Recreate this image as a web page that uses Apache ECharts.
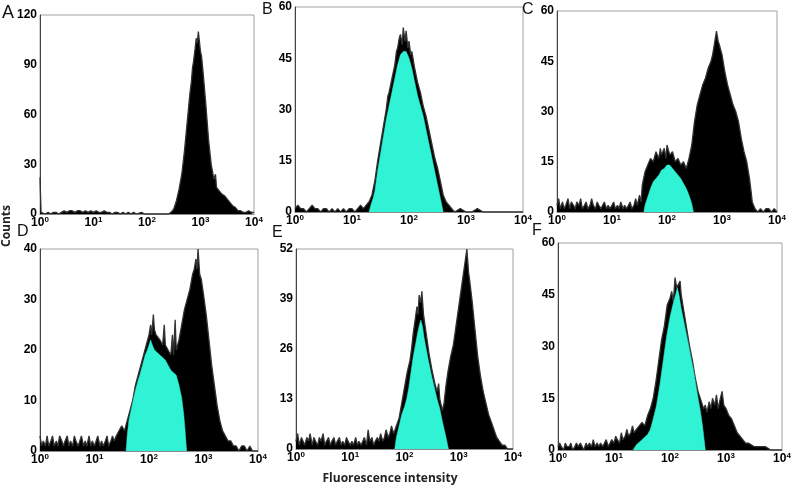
<!DOCTYPE html>
<html>
<head>
<meta charset="utf-8">
<script src="https://cdn.jsdelivr.net/npm/echarts@6/dist/echarts.min.js"></script>
<style>
html,body{margin:0;padding:0;background:#fff;}
#chart{width:800px;height:489px;}
</style>
</head>
<body>
<div id="chart"></div>
<script>
// x values are log10(fluorescence intensity); decade exponents for tick labels
const xExponents = [0, 1, 2, 3, 4];
const panelLetters = ['A', 'B', 'C', 'D', 'E', 'F'];
const yMax = [120, 60, 60, 40, 52, 60];
const yStep = [30, 15, 15, 10, 13, 15];

const aBlack = [[0,22],[0.02,1],[0.05,1],[0.1,0],[0.15,1],[0.2,0],[0.25,1],[0.3,1],[0.35,0],[0.4,1],[0.45,2],[0.5,1],[0.55,2],[0.6,2],[0.65,1],[0.7,2],[0.75,2],[0.8,1],[0.85,2],[0.9,1],[0.95,2],[1.0,1],[1.05,2],[1.1,1],[1.15,1],[1.2,2],[1.25,1],[1.3,1],[1.35,0],[1.4,1],[1.45,1],[1.5,0],[1.55,1],[1.6,0],[1.65,1],[1.7,0],[1.75,1],[1.8,0],[1.9,1],[1.95,0],[2.0,0],[2.1,0],[2.2,0],[2.3,0],[2.4,0],[2.45,1],[2.5,3],[2.55,8],[2.6,15],[2.65,24],[2.7,38],[2.75,55],[2.8,72],[2.83,80],[2.85,88],[2.87,92],[2.9,100],[2.92,106],[2.94,103],[2.96,110],[2.98,104],[3.0,98],[3.02,95],[3.05,85],[3.1,66],[3.15,45],[3.2,30],[3.25,21],[3.28,24],[3.3,16],[3.35,14],[3.4,12],[3.45,11],[3.5,9],[3.55,7],[3.6,5],[3.65,4],[3.7,2],[3.75,2],[3.8,1],[3.85,1],[3.9,2],[3.95,1],[4.0,1]];
const aCyan = [];

const bBlack = [[0,1],[0.05,2],[0.1,1],[0.15,1],[0.2,0],[0.25,1],[0.3,2],[0.35,1],[0.4,1],[0.45,0],[0.5,1],[0.55,1],[0.6,0],[0.65,1],[0.7,0],[0.75,1],[0.8,0],[0.85,1],[0.9,0],[0.95,1],[1.0,1],[1.05,0],[1.1,1],[1.15,2],[1.2,1],[1.25,2],[1.3,3],[1.35,5],[1.4,9],[1.45,15],[1.5,20],[1.55,25],[1.6,30],[1.63,34],[1.65,35],[1.7,39],[1.75,43],[1.78,47],[1.8,48],[1.83,51],[1.85,52],[1.88,49],[1.9,54],[1.93,50],[1.95,53],[1.98,48],[2.0,50],[2.03,46],[2.05,47],[2.1,42],[2.15,38],[2.2,35],[2.25,31],[2.3,28],[2.35,24],[2.4,20],[2.45,16],[2.5,13],[2.55,9],[2.6,5],[2.65,3],[2.7,2],[2.75,1],[2.8,0],[2.9,1],[3.0,0],[3.1,0],[3.2,1],[3.3,0],[3.5,0],[4.0,0]];
const bCyan = [[1.3,0],[1.33,2],[1.37,4],[1.4,6],[1.45,12],[1.5,17],[1.55,22],[1.6,27],[1.65,31],[1.7,35],[1.75,39],[1.8,43],[1.85,46],[1.9,47],[1.95,47],[2.0,45],[2.05,42],[2.1,38],[2.15,34],[2.2,31],[2.25,28],[2.3,24],[2.35,20],[2.4,16],[2.45,12],[2.5,8],[2.55,4],[2.6,0]];

const cBlack = [[0,2],[0.03,4],[0.06,1],[0.1,3],[0.13,1],[0.16,2],[0.2,4],[0.23,1],[0.26,3],[0.3,2],[0.33,1],[0.36,3],[0.4,2],[0.43,4],[0.46,1],[0.5,2],[0.53,3],[0.56,1],[0.6,2],[0.63,4],[0.66,2],[0.7,1],[0.73,3],[0.76,2],[0.8,1],[0.83,2],[0.86,3],[0.9,1],[0.93,2],[0.96,1],[1.0,2],[1.03,3],[1.06,1],[1.1,2],[1.13,1],[1.16,3],[1.2,1],[1.23,2],[1.26,1],[1.3,2],[1.33,3],[1.36,1],[1.4,2],[1.43,4],[1.46,2],[1.5,5],[1.53,3],[1.55,8],[1.6,12],[1.65,14],[1.7,16],[1.75,15],[1.8,18],[1.85,16],[1.88,19],[1.9,17],[1.95,19],[1.98,16],[2.0,20],[2.05,17],[2.1,18],[2.15,15],[2.2,16],[2.25,14],[2.3,15],[2.35,13],[2.4,16],[2.45,20],[2.5,27],[2.55,32],[2.6,35],[2.65,38],[2.7,40],[2.75,43],[2.8,45],[2.83,47],[2.85,49],[2.88,52],[2.9,54],[2.93,51],[2.95,50],[3.0,47],[3.05,42],[3.1,38],[3.15,35],[3.2,32],[3.25,30],[3.3,27],[3.35,22],[3.4,18],[3.45,15],[3.5,10],[3.53,6],[3.55,3],[3.6,1],[3.65,0],[3.7,1],[3.75,0],[3.8,1],[3.85,1],[3.9,0],[3.95,1],[4.0,0]];
const cCyan = [[1.58,0],[1.6,2],[1.62,3],[1.66,5],[1.7,7],[1.75,9],[1.8,10],[1.85,11],[1.9,12.5],[1.95,13],[2.0,14],[2.05,14],[2.1,13],[2.15,12],[2.2,11],[2.25,10],[2.3,8.5],[2.35,7],[2.4,5],[2.45,2.5],[2.48,0]];

const dBlack = [[0,3],[0.03,1],[0.06,2],[0.1,1],[0.13,3],[0.16,1],[0.2,2],[0.23,3],[0.26,1],[0.3,2],[0.33,1],[0.36,3],[0.4,2],[0.43,1],[0.46,2],[0.5,3],[0.53,1],[0.56,2],[0.6,1],[0.63,3],[0.66,2],[0.7,1],[0.73,2],[0.76,3],[0.8,1],[0.83,2],[0.86,1],[0.9,3],[0.93,1],[0.96,2],[1.0,1],[1.03,2],[1.06,3],[1.1,1],[1.13,2],[1.16,1],[1.2,2],[1.23,3],[1.26,1],[1.3,2],[1.33,3],[1.36,2],[1.4,3],[1.45,4],[1.5,5],[1.55,4],[1.6,6],[1.65,8],[1.7,10],[1.75,13],[1.8,15],[1.85,17],[1.9,19],[1.95,21],[2.0,23],[2.03,25],[2.05,23],[2.08,27],[2.1,24],[2.13,23],[2.15,23],[2.2,22],[2.25,21],[2.28,25],[2.3,21],[2.35,20],[2.4,19],[2.43,23],[2.45,19],[2.48,26],[2.5,20],[2.55,22],[2.6,25],[2.65,28],[2.7,30],[2.75,32],[2.8,35],[2.83,36],[2.86,38],[2.88,36],[2.9,40],[2.93,35],[2.96,34],[3.0,31],[3.05,27],[3.1,22],[3.15,17],[3.2,13],[3.25,9],[3.3,6],[3.35,4],[3.4,3],[3.45,2],[3.5,2],[3.55,1],[3.6,1],[3.65,0],[3.7,1],[3.75,1],[3.8,0],[3.85,1],[3.9,0],[4.0,0]];
const dCyan = [[1.58,0],[1.6,3],[1.63,6],[1.67,8],[1.71,10],[1.75,12],[1.8,14],[1.83,15],[1.88,17],[1.93,19],[1.97,20],[2.0,21],[2.03,22],[2.06,21],[2.1,20],[2.15,19.5],[2.2,19],[2.25,18.5],[2.3,18],[2.35,17],[2.4,16],[2.45,15.5],[2.5,15],[2.55,13],[2.6,10.5],[2.64,7],[2.67,3],[2.69,0]];

const eBlack = [[0,2],[0.03,4],[0.06,1],[0.1,3],[0.13,2],[0.16,1],[0.2,3],[0.23,2],[0.26,4],[0.3,1],[0.33,3],[0.36,2],[0.4,1],[0.43,3],[0.46,2],[0.5,4],[0.53,1],[0.56,2],[0.6,3],[0.63,1],[0.66,2],[0.7,3],[0.73,1],[0.76,2],[0.8,3],[0.83,1],[0.86,2],[0.9,1],[0.93,3],[0.96,2],[1.0,1],[1.03,2],[1.06,1],[1.1,3],[1.13,1],[1.16,2],[1.2,1],[1.23,2],[1.26,3],[1.3,1],[1.33,5],[1.36,2],[1.4,3],[1.43,1],[1.46,2],[1.5,3],[1.53,2],[1.56,4],[1.6,2],[1.63,3],[1.66,5],[1.7,3],[1.73,4],[1.76,6],[1.8,4],[1.85,6],[1.9,8],[1.95,12],[2.0,16],[2.05,20],[2.1,23],[2.13,26],[2.16,30],[2.2,34],[2.23,37],[2.25,35],[2.27,40],[2.3,38],[2.32,41],[2.35,35],[2.4,30],[2.45,25],[2.5,21],[2.53,19],[2.56,17],[2.6,15],[2.63,17],[2.65,13],[2.7,10],[2.73,12],[2.76,16],[2.8,20],[2.85,24],[2.9,27],[2.95,32],[3.0,37],[3.05,42],[3.08,45],[3.1,47],[3.13,50],[3.15,52],[3.18,46],[3.2,44],[3.25,38],[3.3,31],[3.35,24],[3.4,19],[3.45,15],[3.5,12],[3.55,9],[3.6,7],[3.65,5],[3.7,3],[3.75,2],[3.8,1],[3.85,1],[3.9,0],[4.0,0]];
const eCyan = [[1.82,0],[1.85,3],[1.9,6],[1.95,9],[2.0,11],[2.04,13],[2.08,16],[2.12,20],[2.16,24],[2.2,27],[2.24,30],[2.27,32],[2.3,33.5],[2.33,32],[2.36,29],[2.4,26],[2.44,23],[2.47,21],[2.5,19],[2.55,16],[2.6,13],[2.65,10.5],[2.7,7],[2.75,4],[2.78,2],[2.81,0]];

const fBlack = [[0,1],[0.03,2],[0.06,1],[0.1,0],[0.13,2],[0.16,1],[0.2,1],[0.23,2],[0.26,0],[0.3,1],[0.33,2],[0.36,1],[0.4,2],[0.43,1],[0.46,0],[0.5,2],[0.53,1],[0.56,2],[0.6,1],[0.63,3],[0.66,1],[0.7,2],[0.73,1],[0.76,2],[0.8,1],[0.83,2],[0.86,3],[0.9,1],[0.93,2],[0.96,3],[1.0,2],[1.03,4],[1.06,3],[1.1,2],[1.13,5],[1.16,3],[1.2,4],[1.23,6],[1.26,4],[1.3,5],[1.33,7],[1.36,5],[1.4,6],[1.45,7],[1.5,8],[1.55,7],[1.6,10],[1.65,12],[1.7,15],[1.75,20],[1.8,26],[1.85,32],[1.9,36],[1.95,42],[2.0,44],[2.03,46],[2.06,43],[2.09,50],[2.12,47],[2.15,48],[2.18,49],[2.2,45],[2.25,40],[2.3,35],[2.35,30],[2.4,26],[2.45,21],[2.5,17],[2.55,14.5],[2.6,12],[2.63,13],[2.66,11],[2.7,14],[2.73,12],[2.76,15],[2.8,13],[2.83,16],[2.86,12],[2.9,15],[2.93,17],[2.96,13],[3.0,12],[3.05,10],[3.1,9],[3.15,7],[3.2,5],[3.25,4],[3.3,3],[3.35,2],[3.4,2],[3.5,1],[3.6,1],[3.7,1],[3.8,0],[3.9,0],[4.0,0]];
const fCyan = [[1.34,0],[1.4,1.5],[1.5,3],[1.6,4.5],[1.65,6],[1.7,9],[1.76,13],[1.82,19],[1.88,26],[1.94,33],[2.0,38.5],[2.05,42],[2.1,45],[2.13,47],[2.16,45],[2.2,41],[2.25,37],[2.3,33],[2.36,28],[2.42,23],[2.48,17],[2.54,11.5],[2.58,7],[2.61,3],[2.63,0]];

const blackSets = [aBlack, bBlack, cBlack, dBlack, eBlack, fBlack];
const cyanSets = [aCyan, bCyan, cCyan, dCyan, eCyan, fCyan];

// layout
const grids = [
  {left: 40, top: 15, width: 214, height: 199},
  {left: 295, top: 7, width: 228, height: 205},
  {left: 557, top: 11, width: 220, height: 201},
  {left: 40, top: 249, width: 218, height: 202},
  {left: 296, top: 249, width: 217, height: 200},
  {left: 558, top: 243, width: 224, height: 207}
];
const letterPos = [[2,13.5,18],[262,9.5,16],[522,9.5,16],[17,232,16],[272,233,16],[532,231,16]];

const FONT = '"Liberation Sans", Arial, sans-serif';
const CYAN = '#30F2D4';

const option = {
  animation: false,
  backgroundColor: '#ffffff',
  grid: grids.map(g => Object.assign({show: true, borderColor: '#a0a0a0', borderWidth: 1, backgroundColor: '#fff'}, g)),
  xAxis: grids.map((g, i) => ({
    type: 'value', gridIndex: i, min: 0, max: 4, interval: 1,
    axisLine: {show: true, lineStyle: {color: '#8a8a8a', width: 1}},
    axisTick: {show: false},
    splitLine: {show: false},
    axisLabel: {
      margin: 2,
      formatter: v => '{b|10}{s|' + xExponents[Math.round(v)] + '}',
      rich: {
        b: {fontSize: 12, fontWeight: 'bold', fontFamily: FONT, color: '#000', lineHeight: 13},
        s: {fontSize: 8, fontWeight: 'bold', fontFamily: FONT, color: '#000', verticalAlign: 'top', lineHeight: 13}
      }
    }
  })),
  yAxis: grids.map((g, i) => ({
    type: 'value', gridIndex: i, min: 0, max: yMax[i], interval: yStep[i],
    axisLine: {show: true, lineStyle: {color: '#444', width: 1}},
    axisTick: {show: false},
    splitLine: {show: false},
    axisLabel: {margin: 3, fontSize: 12, fontWeight: 'bold', fontFamily: FONT, color: '#000'}
  })),
  series: [],
  graphic: []
};

blackSets.forEach((d, i) => {
  option.series.push({
    type: 'line', xAxisIndex: i, yAxisIndex: i, data: d,
    showSymbol: false, symbol: 'none', smooth: false,
    lineStyle: {color: '#333', width: 1.3},
    areaStyle: {color: '#000', opacity: 1},
    z: 2
  });
});
cyanSets.forEach((d, i) => {
  if (!d.length) return;
  option.series.push({
    type: 'line', xAxisIndex: i, yAxisIndex: i, data: d,
    showSymbol: false, symbol: 'none', smooth: false,
    lineStyle: {color: CYAN, width: 0.5},
    areaStyle: {color: CYAN, opacity: 1},
    z: 3
  });
});

panelLetters.forEach((L, i) => {
  option.graphic.push({
    type: 'text', left: letterPos[i][0], top: letterPos[i][1] - letterPos[i][2] * 0.5,
    style: {text: L, font: letterPos[i][2] + 'px ' + FONT, fill: '#111'}
  });
});
option.graphic.push({
  type: 'text', x: 7, y: 226, rotation: Math.PI / 2,
  style: {text: 'Counts', font: 'bold 12px "Open Sans", sans-serif', fill: '#222', align: 'center', verticalAlign: 'middle'}
});
option.graphic.push({
  type: 'text', x: 390, y: 479,
  style: {text: 'Fluorescence intensity', font: 'bold 12px "Open Sans", sans-serif', fill: '#222', align: 'center', verticalAlign: 'middle'}
});

const chart = echarts.init(document.getElementById('chart'), null, {renderer: 'canvas'});
chart.setOption(option);
</script>
</body>
</html>
